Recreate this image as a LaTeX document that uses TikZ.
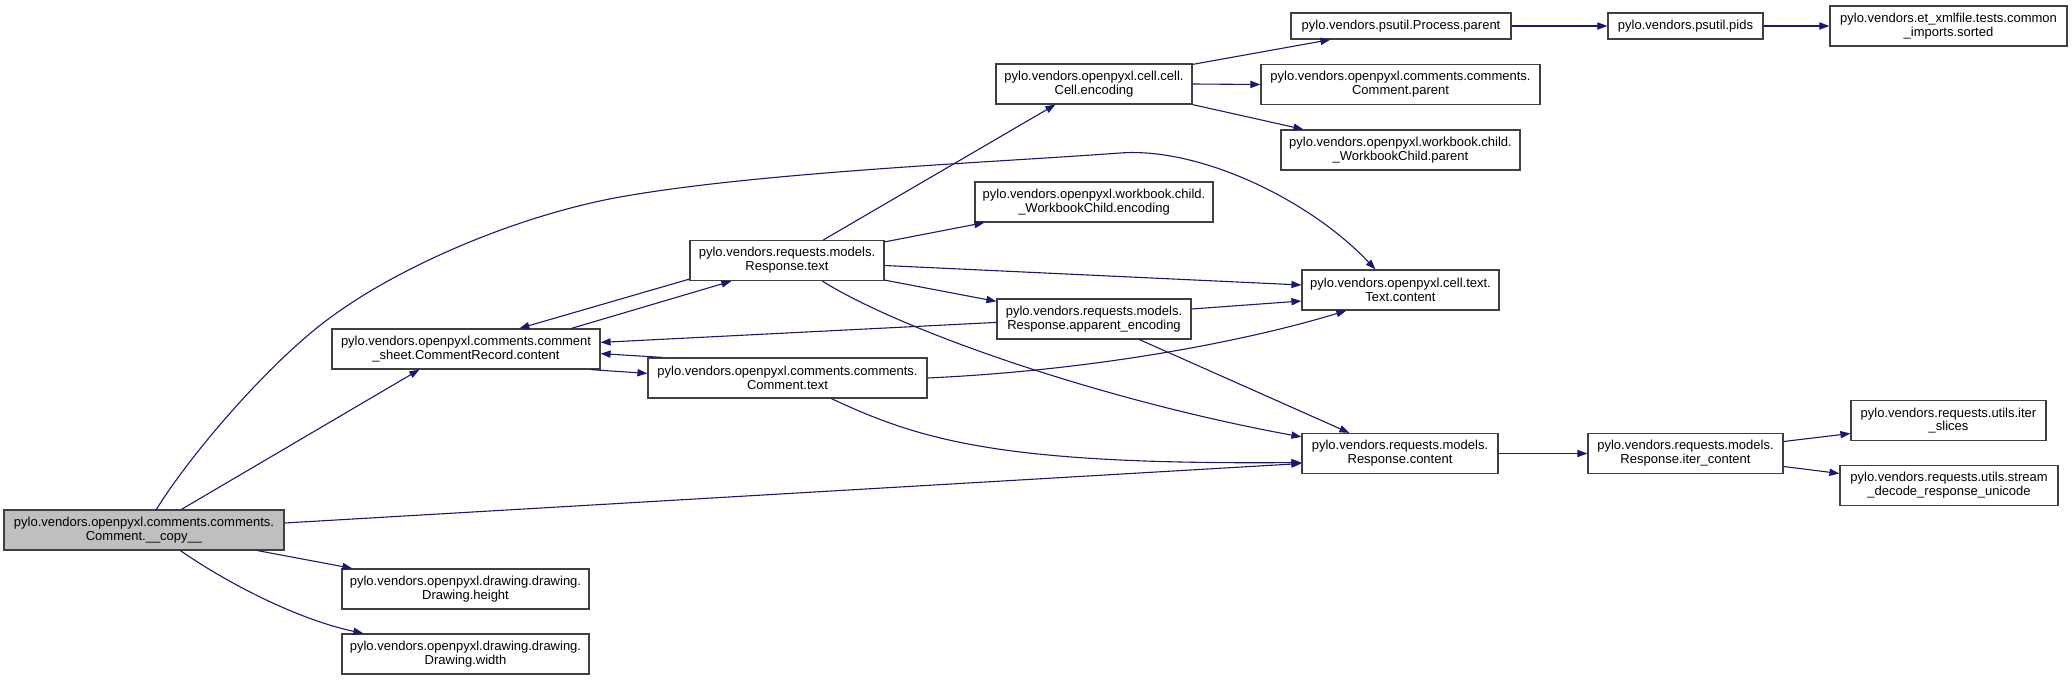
\documentclass[tikz,border=0pt]{standalone}
\usepackage{fontspec}
\setmainfont{Liberation Sans}
\usetikzlibrary{arrows.meta,calc}

\definecolor{edgeblue}{HTML}{191970}
\definecolor{boxgrey}{HTML}{404040}
\definecolor{copyfill}{HTML}{BFBFBF}

\tikzset{
  fn/.style={draw=boxgrey, fill=white, line width=0.6pt, inner sep=0pt,
    minimum height=20pt, align=center, font=\fontsize{6.5}{6.9}\selectfont},
  fnone/.style={fn, minimum height=13pt},
  call/.style={draw=edgeblue, line width=0.55pt, -{Triangle[length=5pt,width=3.6pt]}},
}

\begin{document}
\begin{tikzpicture}[x=0.5pt,y=0.5pt,yscale=-1,xscale=1]
	\useasboundingbox (0,0) rectangle (2072,680);

	% Node: start of the graph
	\node (copy) [fn, fill=copyfill, minimum width=140pt] at (144,530) {pylo.vendors.openpyxl.comments.comments.\\Comment.\_\_copy\_\_};
	% Node
	\node (crec) [fn, minimum width=134pt] at (466,349) {pylo.vendors.openpyxl.comments.comment\\\_sheet.CommentRecord.content};
	% Node
	\node (dheight) [fn, minimum width=123.5pt] at (465.5,589) {pylo.vendors.openpyxl.drawing.drawing.\\Drawing.height};
	% Node
	\node (dwidth) [fn, minimum width=123.5pt] at (465.5,654) {pylo.vendors.openpyxl.drawing.drawing.\\Drawing.width};
	% Node
	\node (rtext) [fn, minimum width=97pt] at (787,260.5) {pylo.vendors.requests.models.\\Response.text};
	% Node
	\node (ctext) [fn, minimum width=139.5pt] at (787.5,378) {pylo.vendors.openpyxl.comments.comments.\\Comment.text};
	% Node
	\node (cellenc) [fn, minimum width=98pt] at (1094,84) {pylo.vendors.openpyxl.cell.cell.\\Cell.encoding};
	% Node
	\node (wcenc) [fn, minimum width=119pt] at (1094,202) {pylo.vendors.openpyxl.workbook.child.\\\_WorkbookChild.encoding};
	% Node
	\node (appenc) [fn, minimum width=97pt] at (1094,319) {pylo.vendors.requests.models.\\Response.apparent\_encoding};
	% Node
	\node (ppar) [fnone, minimum width=110pt] at (1401,26) {pylo.vendors.psutil.Process.parent};
	% Node
	\node (cpar) [fn, minimum width=139.5pt] at (1400.5,84.5) {pylo.vendors.openpyxl.comments.comments.\\Comment.parent};
	% Node
	\node (wcpar) [fn, minimum width=119.5pt] at (1400.5,150) {pylo.vendors.openpyxl.workbook.child.\\\_WorkbookChild.parent};
	% Node
	\node (tcont) [fn, minimum width=98.5pt] at (1400.5,290) {pylo.vendors.openpyxl.cell.text.\\Text.content};
	% Node
	\node (rcont) [fn, minimum width=98pt] at (1400,453.5) {pylo.vendors.requests.models.\\Response.content};
	% Node
	\node (pids) [fnone, minimum width=77.5pt] at (1685.5,26) {pylo.vendors.psutil.pids};
	% Node
	\node (itercont) [fn, minimum width=97.5pt] at (1685.5,453.5) {pylo.vendors.requests.models.\\Response.iter\_content};
	% Node
	\node (sorted) [fn, minimum width=118.5pt] at (1948.5,26) {pylo.vendors.et\_xmlfile.tests.common\\\_imports.sorted};
	% Node
	\node (slices) [fn, minimum width=97.5pt] at (1948.5,420.5) {pylo.vendors.requests.utils.iter\\\_slices};
	% Node
	\node (stream) [fn, minimum width=109pt] at (1949,485.5) {pylo.vendors.requests.utils.stream\\\_decode\_response\_unicode};

	% Edges out of copy
	\draw[call] ($(copy.north west)+(178,0)$) -- ($(crec.south west)+(88,0)$);
	\draw[call] ($(copy.north west)+(153,0)$) .. controls (190,455) and (267,365) .. (327,320) .. controls (400,265) and (520,215) .. (620,197) .. controls (760,172) and (1000,162) .. (1120,153) .. controls (1200,147) and (1310,200) .. ($(tcont.north west)+(74,0)$);
	\draw[call] ($(copy.east)+(0,-7)$) -- ($(rcont.west)+(0,10)$);
	\draw[call] ($(copy.south east)+(-27,0)$) -- ($(dheight.north west)+(11,0)$);
	\draw[call] ($(copy.south west)+(177,0)$) .. controls (230,585) and (300,620) .. ($(dwidth.north west)+(22,0)$);

	% Edges round the comment record
	\draw[call] ($(crec.north west)+(240,0)$) -- ($(rtext.south west)+(42,0)$);
	\draw[call] ($(rtext.south west)+(0,-2)$) -- ($(crec.north west)+(188,0)$);
	\draw[call] ($(crec.south east)+(-10,0)$) -- ($(ctext.north west)+(0,16)$);
	\draw[call] ($(ctext.north west)+(15,0)$) -- ($(crec.south east)+(0,-16)$);
	\draw[call] ($(appenc.north west)+(0,24)$) -- ($(crec.north east)+(0,14)$);

	% Edges out of Response.text
	\draw[call] ($(rtext.north west)+(134,0)$) -- ($(cellenc.south west)+(60,0)$);
	\draw[call] ($(rtext.north east)+(0,2)$) -- ($(wcenc.south west)+(10,0)$);
	\draw[call] ($(rtext.east)+(0,5)$) -- ($(tcont.west)+(0,-5)$);
	\draw[call] ($(rtext.south east)+(0,-1)$) -- ($(appenc.north west)+(0,3)$);
	\draw[call] ($(rtext.south west)+(133,0)$) .. controls (900,330) and (1100,400) .. ($(rcont.north west)+(0,4)$);

	% Edges out of apparent_encoding and Comment.text
	\draw[call] ($(appenc.east)+(0,-10)$) -- ($(tcont.west)+(0,11)$);
	\draw[call] ($(appenc.south west)+(143,0)$) -- ($(rcont.north west)+(48,0)$);
	\draw[call] (ctext.east) .. controls (1100,370) and (1250,340) .. ($(tcont.south west)+(45,0)$);
	\draw[call] ($(ctext.south west)+(184,0)$) .. controls (920,440) and (1000,465) .. ($(rcont.west)+(0,9)$);

	% Edges out of Cell.encoding
	\draw[call] ($(cellenc.north east)+(0,1)$) -- ($(ppar.south west)+(40,0)$);
	\draw[call] (cellenc.east) -- (cpar.west);
	\draw[call] (cellenc.south east) -- ($(wcpar.north west)+(23,0)$);

	% Right hand chains
	\draw[call] (ppar.east) -- (pids.west);
	\draw[call] (pids.east) -- (sorted.west);
	\draw[call] (rcont.east) -- (itercont.west);
	\draw[call] ($(itercont.east)+(0,-12)$) -- ($(slices.west)+(0,13)$);
	\draw[call] ($(itercont.east)+(0,13)$) -- ($(stream.west)+(0,-12)$);

\end{tikzpicture}
\end{document}
